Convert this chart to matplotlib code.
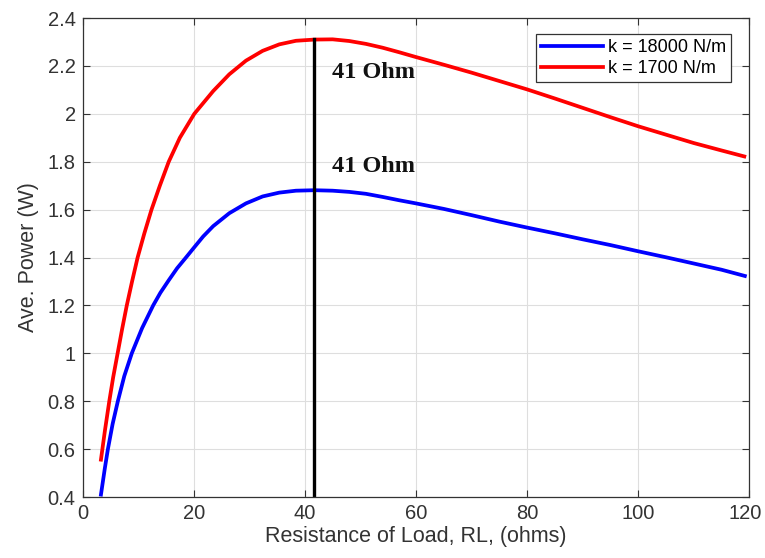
import matplotlib

matplotlib.use("Agg")
import matplotlib.pyplot as plt
import matplotlib.transforms as mtransforms

# load resistance (ohms) vs average power (W)
rl_red = [3.3, 4.0, 4.8, 5.5, 6.3, 7.1, 7.95, 8.9, 9.9, 11.1, 12.4, 13.9, 15.5, 17.5, 20.1, 23.5, 26.4,
          29.4, 32.4, 35.4, 38.4, 41.7, 45, 48, 51, 54, 57, 60, 65, 70, 75, 80, 85, 90, 95, 100,
          105, 110, 115, 119.1]
p_red = [0.556, 0.675, 0.80, 0.90, 1.00, 1.10, 1.20, 1.30, 1.40, 1.50, 1.60, 1.70, 1.80, 1.90, 2.00,
         2.095, 2.165, 2.222, 2.263, 2.29, 2.305, 2.31, 2.311, 2.304, 2.292, 2.276, 2.257, 2.237,
         2.205, 2.172, 2.137, 2.102, 2.064, 2.025, 1.986, 1.948, 1.913, 1.878, 1.847, 1.822]

rl_blue = [3.3, 4.0, 4.55, 5.4, 6.34, 7.5, 8.85, 10.7, 12.7, 14.0, 15.5, 17.0, 18.6, 20, 21.7, 23.5,
           26.4, 29.4, 32.4, 35.4, 38.4, 41.7, 45, 48, 51, 54, 57, 60, 65, 70, 75, 80, 85, 90, 95,
           100, 105, 110, 115, 119.2]
p_blue = [0.41, 0.52, 0.60, 0.705, 0.80, 0.905, 1.00, 1.105, 1.20, 1.253, 1.305, 1.355, 1.40, 1.44,
          1.488, 1.531, 1.585, 1.626, 1.655, 1.671, 1.679, 1.681, 1.679, 1.674, 1.666, 1.653, 1.639,
          1.626, 1.603, 1.577, 1.550, 1.525, 1.501, 1.476, 1.452, 1.426, 1.401, 1.375, 1.349, 1.323]

labels = ["k = 18000 N/m", "k = 1700 N/m"]
opt_rl = 41.7
opt_text = "41 Ohm"
text_x = [44.8, 44.8]
text_y = [2.151, 1.758]
yticks = [0.4, 0.6, 0.8, 1.0, 1.2, 1.4, 1.6, 1.8, 2.0, 2.2, 2.4]
ytick_labels = ["0.4", "0.6", "0.8", "1", "1.2", "1.4", "1.6", "1.8", "2", "2.2", "2.4"]

plt.rcParams["font.family"] = ["Liberation Sans", "DejaVu Sans"]

fig = plt.figure(figsize=(7.65, 5.58), dpi=100)
ax = fig.add_axes([0.108, 0.1093, 0.8715, 0.8584])

ax.plot(rl_blue, p_blue, color="#0000ff", linewidth=2.7, label=labels[0])
ax.plot(rl_red, p_red, color="#ff0000", linewidth=2.7, label=labels[1])
ax.plot([opt_rl, opt_rl], [0.4, max(p_red)], color="black", linewidth=2.4)

for x, y in zip(text_x, text_y):
    ax.text(x, y, opt_text, fontsize=17.5, fontweight="bold", family="Liberation Serif",
            va="baseline", ha="left", color="#111111")

ax.set_xlim(0, 120)
ax.set_ylim(0.4, 2.4)
ax.set_xticks(range(0, 121, 20))
ax.set_yticks(yticks)
ax.set_yticklabels(ytick_labels)
ax.grid(True, color="#dedede", linewidth=0.8)
ax.set_axisbelow(True)
ax.tick_params(direction="in", top=True, right=True, length=5, labelsize=14.5,
               color="#333333", labelcolor="#333333", pad=5)
for s in ax.spines.values():
    s.set_color("#333333")
    s.set_linewidth(0.9)

# last x tick label sits on the figure edge, nudge it in a little
last = ax.get_xticklabels()[-1]
last.set_transform(last.get_transform() + mtransforms.ScaledTranslation(-3 / 72, 0, fig.dpi_scale_trans))

ax.set_xlabel("Resistance of Load, RL, (ohms)", fontsize=15.5, color="#333333", labelpad=2)
ax.set_ylabel("Ave. Power (W)", fontsize=15.5, color="#333333", labelpad=6)

leg = ax.legend(loc="upper right", bbox_to_anchor=(0.973, 0.967), fontsize=13, fancybox=False,
                framealpha=1, edgecolor="#333333", handlelength=3.4, handletextpad=0.28,
                borderpad=0.3, labelspacing=0.2, borderaxespad=0)
leg.get_frame().set_linewidth(0.9)

fig.savefig("out.png")
plt.close(fig)
